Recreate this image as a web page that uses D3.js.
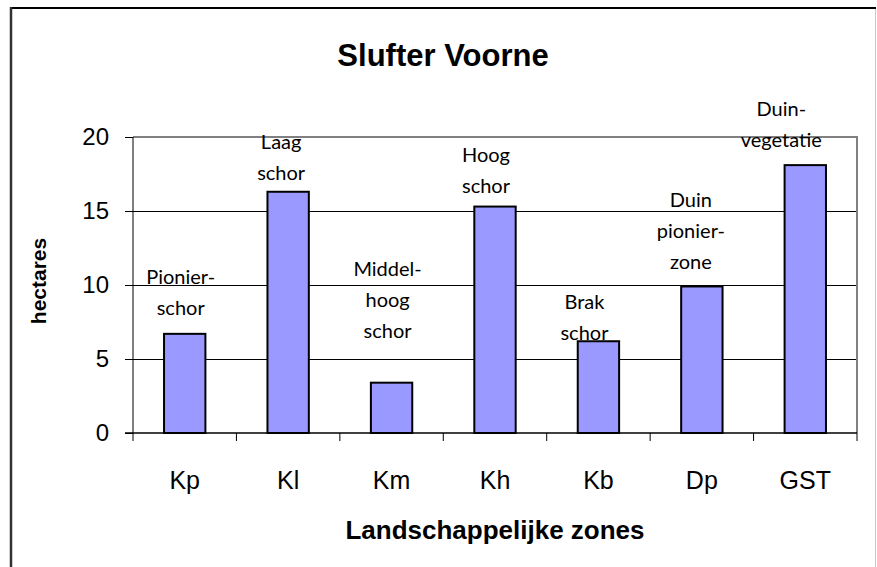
<!DOCTYPE html>
<html lang="nl">
<head>
<meta charset="UTF-8">
<title>Slufter Voorne</title>
<script src="https://cdn.jsdelivr.net/npm/d3@7"></script>
<style>
body{ margin:0; background:#fff; }
svg{ display:block; }
.grid line{ stroke:#000; stroke-width:1px; shape-rendering:crispEdges; }
.bar{ fill:#9999ff; stroke:#000; stroke-width:2px; }
.ann{ font-family:Lato, "Noto Sans", sans-serif; font-size:20px; fill:#000; text-anchor:middle; }
.tick text{ font-family:"Liberation Sans", Arial, sans-serif; }
</style>
</head>
<body>
<script>
// data
var zones = ["Kp", "Kl", "Km", "Kh", "Kb", "Dp", "GST"];
var hectares = [6.7, 16.3, 3.4, 15.3, 6.2, 9.9, 18.1];
var zoneNames = [
  ["Pionier-", "schor"],
  ["Laag", "schor"],
  ["Middel-", "hoog", "schor"],
  ["Hoog", "schor"],
  ["Brak", "schor"],
  ["Duin", "pionier-", "zone"],
  ["Duin-", "vegetatie"]
];
var yTicks = [0, 5, 10, 15, 20];

var W = 877, H = 567;
var m = {left:133, right:20, top:137, bottom:134};
// placement of the text boxes: gap above bar top and sideways shift (px)
var labelGap = [19, 12, 45, 14, 1, 17, 18];
var labelShift = [-4, -7, -4, -9, -14, -11, -24];

var svg = d3.select("body").append("svg").attr("width", W).attr("height", H);

// frame round the chart
svg.append("line").attr("x1",10).attr("x2",876).attr("y1",8).attr("y2",8)
  .attr("stroke","#000").attr("stroke-width",2);
svg.append("line").attr("x1",11).attr("x2",11).attr("y1",7).attr("y2",H)
  .attr("stroke","#333").attr("stroke-width",2.5);
svg.append("line").attr("x1",875.5).attr("x2",875.5).attr("y1",9).attr("y2",H)
  .attr("stroke","#c8c8c8").attr("stroke-width",1);

var x = d3.scaleBand().domain(zones).range([m.left, W - m.right]).paddingInner(0.6).paddingOuter(0.3);
var xb = d3.scaleBand().domain(zones).range([m.left, W - m.right]);
var y = d3.scaleLinear().domain([0, 20]).range([H - m.bottom, m.top]);

// gridlines
svg.append("g").attr("class","grid").selectAll("line")
  .data(yTicks.filter(function(d){ return d > 0 && d < 20; }))
  .enter().append("line")
  .attr("x1", m.left).attr("x2", W - m.right)
  .attr("y1", function(d){ return Math.round(y(d)) + 0.5; })
  .attr("y2", function(d){ return Math.round(y(d)) + 0.5; });

// grey plot border top and right
svg.append("path")
  .attr("d", "M" + m.left + "," + y(20) + "H" + (W - m.right) + "V" + y(0))
  .attr("fill","none").attr("stroke","#808080").attr("stroke-width",2);

// bars
svg.append("g").selectAll("rect").data(hectares).enter().append("rect")
  .attr("class","bar")
  .attr("x", function(d,i){ return x(zones[i]); })
  .attr("width", x.bandwidth())
  .attr("y", function(d){ return y(d); })
  .attr("height", function(d){ return y(0) - y(d); });

// y axis
var yAxis = svg.append("g").attr("transform","translate(" + m.left + ",0)")
  .call(d3.axisLeft(y).tickValues(yTicks).tickSize(8).tickPadding(16));
yAxis.selectAll("text").attr("font-size", 24).attr("fill","#000");
yAxis.selectAll("line, path").attr("stroke","#000");
yAxis.select(".domain").attr("d", "M0," + y(20) + "V" + y(0));

// x axis, ticks on band edges
var xAxis = svg.append("g").attr("transform","translate(0," + y(0) + ")");
xAxis.append("line").attr("x1", m.left - 8).attr("x2", W - m.right)
  .attr("stroke","#000").attr("stroke-width",1.5);
xAxis.selectAll("line.tk").data(zones).enter().append("line").attr("class","tk")
  .attr("x1", function(d){ return xb(d) + xb.bandwidth(); })
  .attr("x2", function(d){ return xb(d) + xb.bandwidth(); })
  .attr("y1", 0).attr("y2", 8).attr("stroke","#000");
xAxis.append("line").attr("x1", m.left).attr("x2", m.left).attr("y1",0).attr("y2",8).attr("stroke","#000");
xAxis.selectAll("text").data(zones).enter().append("text")
  .attr("x", function(d){ return xb(d) + xb.bandwidth()/2; })
  .attr("y", 56)
  .attr("text-anchor","middle")
  .attr("font-family", '"Liberation Sans", Arial, sans-serif')
  .attr("font-size", 25)
  .text(function(d){ return d; });

// annotations above the bars
var ann = svg.append("g").selectAll("text").data(zoneNames).enter().append("text")
  .attr("class","ann")
  .attr("x", function(d,i){ return xb(zones[i]) + xb.bandwidth()/2 + labelShift[i]; })
  .attr("y", function(d,i){ return y(hectares[i]) - labelGap[i] - (d.length - 1) * 31; });
ann.selectAll("tspan").data(function(d){ return d; }).enter().append("tspan")
  .attr("x", function(){ return d3.select(this.parentNode).attr("x"); })
  .attr("dy", function(d,i){ return i ? 31 : 0; })
  .text(function(d){ return d; });

// titles
svg.append("text").attr("x", 443).attr("y", 66).attr("text-anchor","middle")
  .attr("font-family", '"Liberation Sans", Arial, sans-serif').attr("font-weight","bold")
  .attr("font-size", 31).text("Slufter Voorne");
svg.append("text").attr("x", (m.left + W - m.right)/2).attr("y", 539).attr("text-anchor","middle")
  .attr("font-family", '"Liberation Sans", Arial, sans-serif').attr("font-weight","bold")
  .attr("font-size", 26).text("Landschappelijke zones");
svg.append("text").attr("transform","translate(46," + (y(10) - 4) + ") rotate(-90)")
  .attr("text-anchor","middle")
  .attr("font-family", '"Liberation Sans", Arial, sans-serif').attr("font-weight","bold")
  .attr("font-size", 21).text("hectares");
</script>
</body>
</html>
